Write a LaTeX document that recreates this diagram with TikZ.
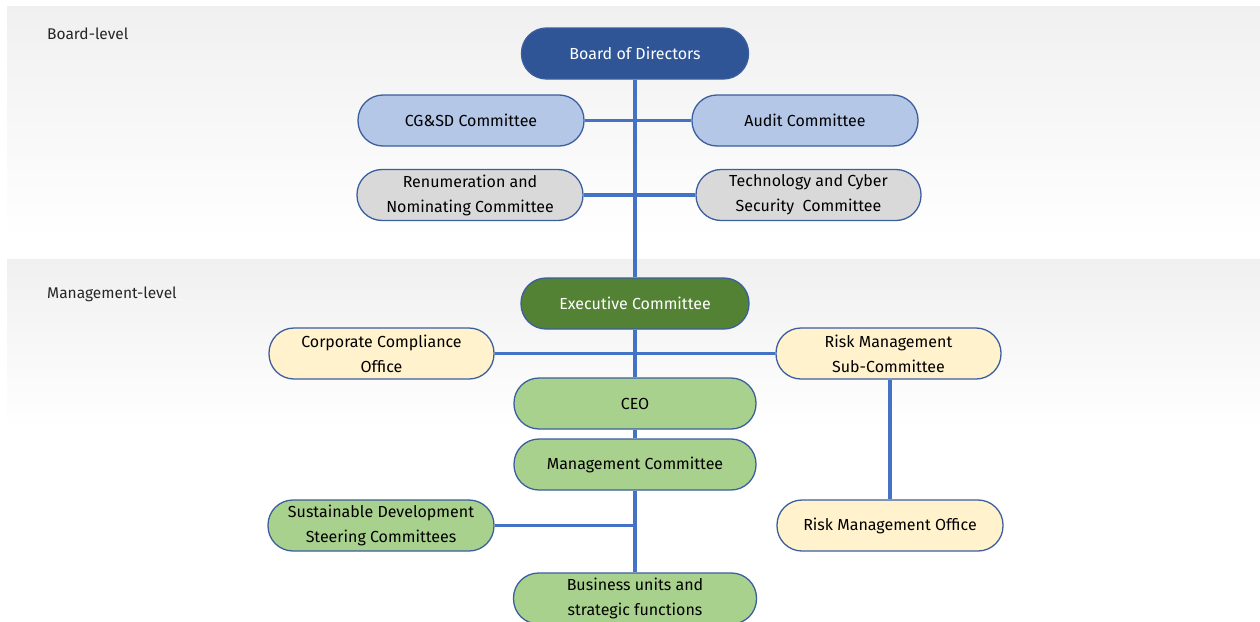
\documentclass[tikz,border=0pt]{standalone}
\usepackage{fontspec}
\setmainfont{Fira Sans}
\usetikzlibrary{positioning}
\definecolor{bodblue}{HTML}{2F5597}
\definecolor{lblue}{HTML}{B4C7E7}
\definecolor{lgray}{HTML}{D9D9D9}
\definecolor{exgreen}{HTML}{548235}
\definecolor{lyellow}{HTML}{FFF2CC}
\definecolor{lgreen}{HTML}{A9D18E}
\definecolor{edge}{HTML}{3B5E9E}
\definecolor{conn}{HTML}{4472C4}
\definecolor{bandgray}{HTML}{F0F0F0}
\pgfdeclarelayer{bands}
\pgfdeclarelayer{lines}
\pgfsetlayers{bands,lines,main}
\tikzset{
  pill/.style={draw=edge, line width=1.3pt, rounded corners=25pt, minimum height=51pt,
    minimum width=226pt, align=center, font=\fontsize{16}{25}\selectfont, inner sep=2pt},
  conline/.style={draw=conn, line width=3.2pt},
  lvl/.style={anchor=west, font=\fontsize{15.5}{18}\selectfont, text=black!85, inner sep=0pt}
}
\begin{document}
\begin{tikzpicture}[x=1pt,y=-1pt]
\useasboundingbox (0,0) rectangle (1260,621);
\begin{pgfonlayer}{bands}
  \fill[top color=bandgray, bottom color=white] (7,6) rectangle (1260,240);
  \fill[white] (7,240) rectangle (1260,258);
  \fill[top color=bandgray, bottom color=white] (7,259) rectangle (1260,430);
\end{pgfonlayer}
\node[lvl] (bl) at (47,34) {Board-level};
\node[lvl] (ml) at (47,294) {Management-level};

\node[pill, fill=bodblue, text=white, minimum width=227pt] (bod) at (635,53.5) {Board of Directors};
\node[pill, fill=lblue] (cgsd) at (471,120.5) {CG\&SD Committee};
\node[pill, fill=lblue] (audit) at (805,120.5) {Audit Committee};
\node[pill, fill=lgray] (renum) at (470,195) {Renumeration and\\Nominating Committee};
\node[pill, fill=lgray, minimum width=225pt] (tech) at (808.5,195) {Technology and Cyber\\Security\ \ Committee};
\node[pill, fill=exgreen, text=white, minimum width=228pt] (exec) at (635,303.5) {Executive Committee};
\node[pill, fill=lyellow, minimum width=225pt] (cco) at (381.5,353.5) {Corporate Compliance\\Office};
\node[pill, fill=lyellow, minimum width=225pt] (rmsc) at (888.5,353.5) {Risk Management\\Sub-Committee};
\node[pill, fill=lgreen, minimum width=242pt] (ceo) at (635,403.5) {CEO};
\node[pill, fill=lgreen, minimum width=242pt] (mc) at (635,464.5) {Management Committee};
\node[pill, fill=lgreen] (sus) at (381,525.5) {Sustainable Development\\Steering Committees};
\node[pill, fill=lyellow] (rmo) at (890,525.5) {Risk Management Office};
\node[pill, fill=lgreen, minimum width=243pt] (bu) at (635,598.5) {Business units and\\strategic functions};

\begin{pgfonlayer}{lines}
  \draw[conline] (bod.south) -- (exec.north);
  \draw[conline] (cgsd.east) -- (audit.west);
  \draw[conline] (renum.east) -- (tech.west);
  \draw[conline] (exec.south) -- (ceo.north);
  \draw[conline] (cco.east) -- (rmsc.west);
  \draw[conline] (ceo.south) -- (mc.north);
  \draw[conline] (mc.south) -- (bu.north);
  \draw[conline] (sus.east) -- (sus.east -| mc.south);
  \draw[conline] (rmsc.south -| rmo.north) -- (rmo.north);
\end{pgfonlayer}
\end{tikzpicture}
\end{document}
